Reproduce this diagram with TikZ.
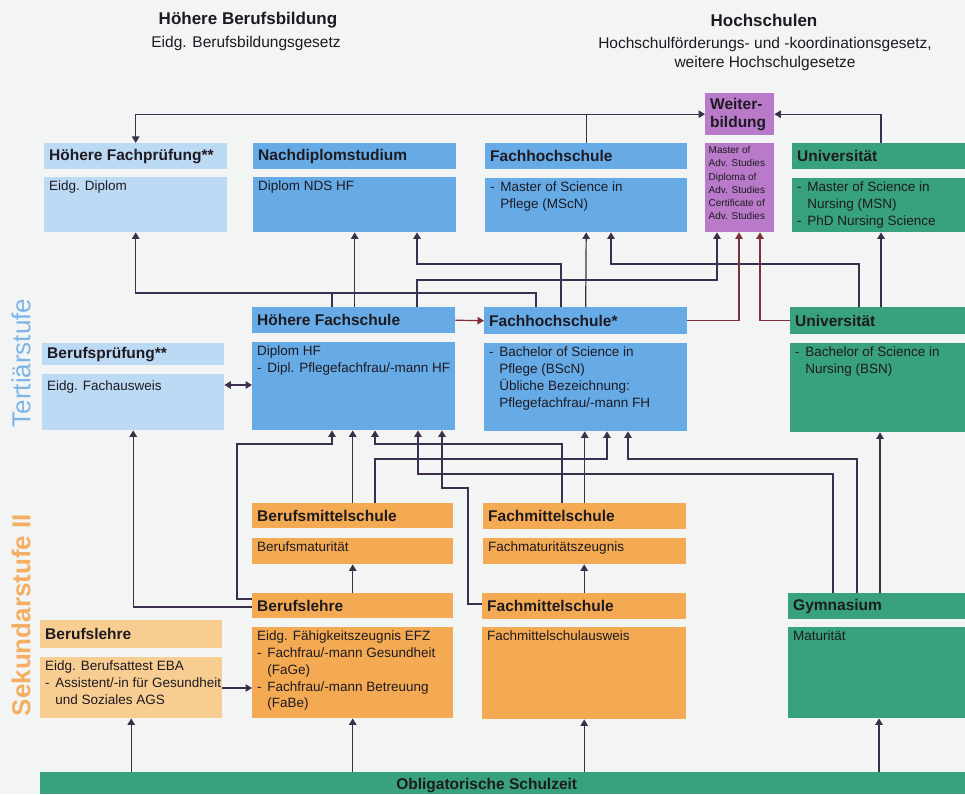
\documentclass[tikz,border=0pt]{standalone}
\usepackage{fontspec}
\setmainfont{Liberation Sans}
\usetikzlibrary{arrows.meta}

\definecolor{hinter}{HTML}{F3F4F4}
\definecolor{hellblau}{HTML}{BCDAF3}
\definecolor{blau}{HTML}{66ABE6}
\definecolor{lila}{HTML}{B97BC9}
\definecolor{gruen}{HTML}{38A27C}
\definecolor{orange}{HTML}{F4AA52}
\definecolor{hellorange}{HTML}{F8CD92}
\definecolor{tblau}{HTML}{7DB5E6}
\definecolor{sorange}{HTML}{F5AF64}
\definecolor{schrift}{HTML}{1E1A22}
\definecolor{linie}{HTML}{3C2F4D}
\definecolor{rotlinie}{HTML}{7E2F3A}

\newcommand{\strich}{\makebox[0.75em][l]{-}}
\newcommand{\einzug}{\hspace*{0.75em}}

\begin{document}
\begin{tikzpicture}[x=1pt, y=-1pt,
  kasten/.style={fill=#1, anchor=north west, inner sep=0pt},
  kopf/.style={anchor=west, inner xsep=5pt, inner ysep=0pt, align=left, text=schrift,
    font=\fontsize{15.5}{18}\selectfont\bfseries},
  inhalt/.style={anchor=north west, inner xsep=5pt, inner ysep=4pt, align=left, text=schrift,
    font=\fontsize{13.5}{16.7}\selectfont},
  klein/.style={anchor=north west, inner xsep=3.5pt, inner ysep=3pt, align=left, text=schrift,
    font=\fontsize{10}{13.3}\selectfont},
  titel/.style={text=schrift, align=center, font=\fontsize{17}{20}\selectfont\bfseries},
  untertitel/.style={text=schrift, align=center, font=\fontsize{15.5}{18.5}\selectfont},
  ln/.style={draw=linie, line width=1.2pt},
  vb/.style={ln, -{Triangle[width=7.5pt,length=6.5pt]}},
  vbrot/.style={vb, draw=rotlinie}]

\fill[hinter] (0,0) rectangle (965,794);
\useasboundingbox (0,0) rectangle (965,794);

% Titel
\node[titel] (tBB) at (248,20) {Höhere Berufsbildung};
\node[untertitel] (tBBg) at (246,43) {Eidg. Berufsbildungsgesetz};
\node[titel] (tHS) at (764,20) {Hochschulen};
\node[untertitel] (tHSg) at (765,54) {Hochschulförderungs- und -koordinationsgesetz,\\weitere Hochschulgesetze};

% Stufen
\node[rotate=90, text=tblau, font=\fontsize{26}{30}\selectfont] (tertiaer) at (21,363) {Tertiärstufe};
\node[rotate=90, text=sorange, font=\fontsize{26}{30}\selectfont\bfseries] (sekundar) at (21,615) {Sekundarstufe II};

% obere Reihe
\node[kasten=hellblau, minimum width=183, minimum height=26, label={[kopf]west:Höhere Fachprüfung**}] (hfpH) at (44,143) {};
\node[kasten=hellblau, minimum width=183, minimum height=55, label={[inhalt]north west:Eidg. Diplom}] (hfpB) at (44,177) {};
\node[kasten=blau, minimum width=203, minimum height=26, label={[kopf]west:Nachdiplomstudium}] (ndsH) at (253,143) {};
\node[kasten=blau, minimum width=203, minimum height=55, label={[inhalt]north west:Diplom NDS HF}] (ndsB) at (253,177) {};
\node[kasten=blau, minimum width=202, minimum height=26, label={[kopf]west:Fachhochschule}] (fhH) at (485,143) {};
\node[kasten=blau, minimum width=202, minimum height=54, label={[inhalt]north west:{\strich Master of Science in\\\einzug Pflege (MScN)}}] (fhB) at (485,178) {};
\node[kasten=lila, minimum width=69, minimum height=42, label={[kopf]west:{Weiter-\\bildung}}] (wbT) at (705,93) {};
\node[kasten=lila, minimum width=69, minimum height=89, label={[klein]north west:{Master of\\Adv. Studies\\Diploma of\\Adv. Studies\\Certificate of\\Adv. Studies}}] (wbB) at (705,143) {};
\node[kasten=gruen, minimum width=173, minimum height=26, label={[kopf]west:Universität}] (uniH) at (792,143) {};
\node[kasten=gruen, minimum width=173, minimum height=54, label={[inhalt]north west:{\strich Master of Science in\\\einzug Nursing (MSN)\\\strich PhD Nursing Science}}] (uniB) at (792,178) {};

% Tertiaerstufe
\node[kasten=hellblau, minimum width=182, minimum height=22, label={[kopf]west:Berufsprüfung**}] (bpH) at (42,343) {};
\node[kasten=hellblau, minimum width=182, minimum height=56, label={[inhalt, yshift=-3]north west:Eidg. Fachausweis}] (bpB) at (42,374) {};
\node[kasten=blau, minimum width=203, minimum height=26, label={[kopf]west:Höhere Fachschule}] (hfH) at (252,307) {};
\node[kasten=blau, minimum width=203, minimum height=88, label={[inhalt]north west:{Diplom HF\\\strich Dipl. Pflegefachfrau/-mann HF}}] (hfB) at (252,342) {};
\node[kasten=blau, minimum width=203, minimum height=27, label={[kopf]west:Fachhochschule*}] (fhsH) at (484,307) {};
\node[kasten=blau, minimum width=203, minimum height=88, label={[inhalt]north west:{\strich Bachelor of Science in\\\einzug Pflege (BScN)\\\einzug Übliche Bezeichnung:\\\einzug Pflegefachfrau/-mann FH}}] (fhsB) at (484,343) {};
\node[kasten=gruen, minimum width=175, minimum height=27, label={[kopf]west:Universität}] (unitH) at (790,307) {};
\node[kasten=gruen, minimum width=175, minimum height=89, label={[inhalt]north west:{\strich Bachelor of Science in\\\einzug Nursing (BSN)}}] (unitB) at (790,343) {};

% Sekundarstufe II
\node[kasten=orange, minimum width=201, minimum height=25, label={[kopf]west:Berufsmittelschule}] (bmsH) at (252,503) {};
\node[kasten=orange, minimum width=201, minimum height=26, label={[inhalt]north west:Berufsmaturität}] (bmsB) at (252,538) {};
\node[kasten=orange, minimum width=203, minimum height=26, label={[kopf]west:Fachmittelschule}] (fmsoH) at (483,503) {};
\node[kasten=orange, minimum width=203, minimum height=26, label={[inhalt]north west:Fachmaturitätszeugnis}] (fmsoB) at (483,538) {};
\node[kasten=orange, minimum width=201, minimum height=25, label={[kopf]west:Berufslehre}] (blH) at (252,593) {};
\node[kasten=orange, minimum width=201, minimum height=91, label={[inhalt]north west:{Eidg. Fähigkeitszeugnis EFZ\\\strich Fachfrau/-mann Gesundheit\\\einzug (FaGe)\\\strich Fachfrau/-mann Betreuung\\\einzug (FaBe)}}] (blB) at (252,627) {};
\node[kasten=hellorange, minimum width=182, minimum height=28, label={[kopf]west:Berufslehre}] (blaH) at (40,620) {};
\node[kasten=hellorange, minimum width=182, minimum height=61, label={[inhalt]north west:{Eidg. Berufsattest EBA\\\strich Assistent/-in für Gesundheit\\\einzug und Soziales AGS}}] (blaB) at (40,657) {};
\node[kasten=orange, minimum width=204, minimum height=26, label={[kopf]west:Fachmittelschule}] (fmsuH) at (482,593) {};
\node[kasten=orange, minimum width=204, minimum height=92, label={[inhalt]north west:Fachmittelschulausweis}] (fmsuB) at (482,627) {};
\node[kasten=gruen, minimum width=177, minimum height=26, label={[kopf]west:Gymnasium}] (gymH) at (788,593) {};
\node[kasten=gruen, minimum width=177, minimum height=91, label={[inhalt]north west:Maturität}] (gymB) at (788,627) {};
\node[kasten=gruen, minimum width=925, minimum height=22, label={[kopf, anchor=center, xshift=-16, yshift=-2]center:Obligatorische Schulzeit}] (os) at (40,772) {};

% Verbindungen oben
\draw[vb] (fhH.north) |- (wbT.west);
\draw[vb] (fhH.north |- wbT.west) -| (hfpH.north);
\draw[vb] (uniH.north -| 881,0) |- (wbT.east);

% Tertiaerstufe -> obere Reihe
\draw[vb] (hfH.north -| 332,0) -- (332,293) -| (hfpB.south);
\draw[ln] (fhsH.north -| 536,0) |- (332,293);
\draw[vb] (hfH.north -| ndsB.south) -- (ndsB.south);
\draw[vb] (fhsH.north -| 561,0) |- (417,264) -- (ndsB.south -| 417,0);
\draw[vb] (hfH.north -| 417,0) |- (717,280) -- (wbB.south -| 717,0);
\draw[vb] (fhsH.north) -- (fhB.south);
\draw[vb] (unitH.north -| 859,0) |- (611,264) -- (fhB.south -| 611,0);
\draw[vb] (unitH.north -| 881,0) -- (uniB.south -| 881,0);
\draw[vbrot] (fhsH.east) -| (wbB.south -| 739,0);
\draw[vbrot] (unitH.west) -| (wbB.south -| 760,0);
\draw[vbrot] (hfH.east) -- (fhsH.west);
\draw[ln, {Triangle[width=7.5pt,length=6.5pt]}-{Triangle[width=7.5pt,length=6.5pt]}] (bpB.east |- 0,385) -- (hfB.west |- 0,385);

% Sekundarstufe II -> Tertiaerstufe
\draw[vb] (blH.west |- 0,599) -| (237,444) -| (hfB.south -| 332,0);
\draw[vb] (bmsH.north) -- (hfB.south -| bmsH.north);
\draw[vb] (fmsoH.north -| 562,0) |- (375,444) -- (hfB.south -| 375,0);
\draw[vb] (gymH.north -| 833,0) |- (418,474) -- (hfB.south -| 418,0);
\draw[vb] (fmsuH.west |- 0,604) -| (468,488) -| (hfB.south -| 442,0);
\draw[vb] (fmsoH.north) -- (fhsB.south -| fmsoH.north);
\draw[vb] (bmsH.north -| 375,0) |- (607,459) -- (fhsB.south -| 607,0);
\draw[vb] (gymH.north -| 857,0) |- (628,459) -- (fhsB.south -| 628,0);
\draw[vb] (gymH.north -| 880,0) -- (unitB.south -| 880,0);
\draw[vb] (blH.west |- 0,607) -| (bpB.south);

% innerhalb Sekundarstufe II
\draw[vb] (blH.north) -- (bmsB.south);
\draw[vb] (fmsuH.north) -- (fmsoB.south -| fmsuH.north);
\draw[vb] (blaB.east |- 0,688) -- (blB.west |- 0,688);

% Obligatorische Schulzeit
\draw[vb] (os.north -| blaB.south) -- (blaB.south);
\draw[vb] (os.north -| blB.south) -- (blB.south);
\draw[vb] (os.north -| fmsuB.south) -- (fmsuB.south);
\draw[vb] (os.north -| 879,0) -- (gymB.south -| 879,0);
\end{tikzpicture}
\end{document}
